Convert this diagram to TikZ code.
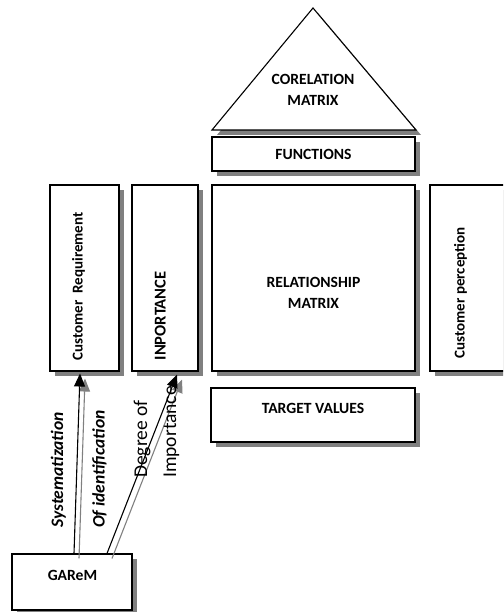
\documentclass[tikz,border=0pt]{standalone}
\usepackage{fontspec}
\setmainfont{Carlito}
\usepackage{tikz}
\usetikzlibrary{positioning}
\usetikzlibrary{arrows.meta,shadows}

\begin{document}
\begin{tikzpicture}[x=1pt,y=1pt]

  \tikzstyle{boxshadow}=[drop shadow={shadow xshift=5pt,shadow yshift=-5pt,opacity=1,fill=black!50}]
  \tikzstyle{qbox}=[rectangle,draw=black,line width=1.1pt,fill=white,boxshadow,inner sep=0pt]
  \tikzstyle{qtext}=[font=\fontsize{15.6}{21}\selectfont\bfseries,align=center,inner sep=0pt]
  \tikzstyle{vtext}=[font=\fontsize{15}{18}\selectfont\bfseries,rotate=90,inner sep=0pt,anchor=base west]
  \tikzstyle{ltext}=[font=\fontsize{17.5}{20}\selectfont\bfseries\itshape,rotate=90,inner sep=0pt,anchor=base west]
  \tikzstyle{arr}=[line width=1.1pt,-{Triangle[length=13pt,width=11pt]}]
  \tikzstyle{arrshade}=[arr,draw=black!50,transform canvas={xshift=5pt,yshift=-5pt}]

  \useasboundingbox (0,0) rectangle (503,612);
  \clip (0,0) rectangle (503,612);

  % house of quality
  \coordinate (apex) at (313,604);
  \coordinate (basel) at (212,482);
  \coordinate (baser) at (416,482);
  \draw[line width=1.1pt,fill=white,boxshadow] (basel) -- (apex) -- (baser) -- cycle;
  \node[qtext] (corel) at (313,522) {CORELATION\\MATRIX};

  \node[qbox,qtext,minimum width=203pt,minimum height=34pt] (func) at (313.5,458) {FUNCTIONS};

  \node[qbox,minimum width=69pt,minimum height=186pt] (custreq) at (84.5,334) {};
  \node[qbox,minimum width=66pt,minimum height=186pt] (inport) at (165,334) {};
  \node[qbox,minimum width=203pt,minimum height=186pt] (relmat) at (313.5,334) {};
  \node[qbox,minimum width=82pt,minimum height=186pt] (custper) at (471,334) {};
  \node[qbox,minimum width=204pt,minimum height=54pt] (target) at (313,197) {};
  \node[qbox,minimum width=120pt,minimum height=56pt] (garem) at (72,30) {};

  \node[vtext] (custreqt) at ([xshift=-2pt,yshift=11pt]custreq.south) {Customer\ \ Requirement};
  \node[vtext,font=\fontsize{16.5}{18}\selectfont\bfseries] (inportt) at ([xshift=0.5pt,yshift=11pt]inport.south) {INPORTANCE};
  \node[vtext] (custpert) at ([xshift=-6.5pt,yshift=13pt]custper.south) {Customer perception};
  \node[qtext] (relmatt) at ([yshift=-15pt]relmat.center) {RELATIONSHIP\\MATRIX};
  \node[qtext] (targett) at ([yshift=7pt]target.center) {TARGET VALUES};
  \node[qtext] (garemt) at ([yshift=7pt,xshift=0.5pt]garem.center) {GAReM};

  % links from GAReM
  \draw[arrshade] ([xshift=2pt]garem.north) -- ([xshift=-4.5pt,yshift=-2pt]custreq.south);
  \draw[arrshade] ([xshift=35pt]garem.north) -- ([xshift=12pt,yshift=-3pt]inport.south);
  \draw[arr] ([xshift=2pt]garem.north) -- ([xshift=-4.5pt,yshift=-2pt]custreq.south);
  \draw[arr] ([xshift=35pt]garem.north) -- ([xshift=12pt,yshift=-3pt]inport.south);

  \node[ltext] (syst) at (63,84) {Systematization};
  \node[ltext] (ident) at (104.5,84) {Of identification};
  \node[font=\fontsize{19.5}{29}\selectfont,rotate=90,inner sep=0pt,anchor=base west,align=left] (degree) at (176,134) {Degree of\\Importance};

\end{tikzpicture}
\end{document}
